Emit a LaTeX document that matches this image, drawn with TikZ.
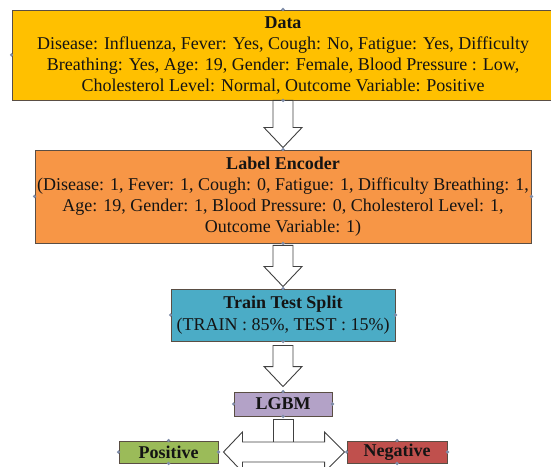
\documentclass[tikz,border=0pt]{standalone}
\usepackage{fontspec}
\setmainfont{Liberation Serif}
\usetikzlibrary{calc}
\definecolor{cdata}{HTML}{FFC000}
\definecolor{clabel}{HTML}{F79646}
\definecolor{ctrain}{HTML}{4BACC6}
\definecolor{clgbm}{HTML}{B3A2C7}
\definecolor{cpos}{HTML}{9BBB59}
\definecolor{cneg}{HTML}{C0504D}
\definecolor{cborder}{HTML}{5A4E44}
\definecolor{ctext}{HTML}{141414}
\definecolor{cdot}{HTML}{7F8CA8}
\tikzset{
  box/.style={draw=cborder, line width=0.9pt, inner sep=0pt, align=center,
    text=ctext, font=\fontsize{18}{21}\selectfont},
  blockarrow/.style={draw=black!75, line width=0.9pt, fill=white, line join=miter},
  cdotstyle/.style={fill=cdot, draw=none},
}
\newcommand{\boxdots}[1]{%
  \foreach \a in {north,south,east,west}{\fill[cdotstyle] (#1.\a) circle (1.8pt);}}
\newcommand{\blockarr}[4]{%
  \draw[blockarrow] let \p1=(#1.south), \p2=(#2.north) in
    ({\x1-10pt},{\y1-#3}) -- ({\x1+10pt},{\y1-#3}) -- ({\x1+10pt},{\y2+#4+20pt})
    -- ({\x1+19pt},{\y2+#4+20pt}) -- (\x1,{\y2+#4}) -- ({\x1-19pt},{\y2+#4+20pt})
    -- ({\x1-10pt},{\y2+#4+20pt}) -- cycle;}
\begin{document}
\begin{tikzpicture}[x=1pt,y=1pt]
\useasboundingbox (0,0) rectangle (551,466);
\node[box, fill=cdata, minimum width=542pt, minimum height=90pt] (data) at (283,411)
  {\textbf{Data}\\Disease: Influenza, Fever: Yes, Cough: No, Fatigue: Yes, Difficulty\\
   Breathing: Yes, Age: 19, Gender: Female, Blood Pressure : Low,\\
   Cholesterol Level: Normal, Outcome Variable: Positive};
\node[box, fill=clabel, minimum width=496pt, minimum height=93pt] (label) at (283,269.5)
  {\textbf{Label Encoder}\\(Disease: 1, Fever: 1, Cough: 0, Fatigue: 1, Difficulty Breathing: 1,\\
   Age: 19, Gender: 1, Blood Pressure: 0, Cholesterol Level: 1,\\
   Outcome Variable: 1)};
\node[box, fill=ctrain, minimum width=224pt, minimum height=52pt, font=\fontsize{18}{22}\selectfont] (train) at (283,151)
  {\textbf{Train Test Split}\\(TRAIN : 85\%, TEST : 15\%)};
\node[box, fill=clgbm, minimum width=98pt, minimum height=24pt] (lgbm) at (283,62) {\textbf{LGBM}};
\node[box, fill=cpos, minimum width=99pt, minimum height=22pt] (pos) at (168.5,14) {\textbf{Positive}};
\node[box, fill=cneg, minimum width=100pt, minimum height=22pt] (neg) at (397,14) {\textbf{Negative}};
\blockarr{data}{label}{0pt}{2pt}
\blockarr{label}{train}{2pt}{2pt}
\blockarr{train}{lgbm}{4pt}{5pt}
% stem from LGBM
\draw[blockarrow] let \p1=(lgbm.south) in
  ({\x1-10pt},{\y1-27pt}) -- ({\x1-10pt},{\y1-3pt}) -- ({\x1+10pt},{\y1-3pt}) -- ({\x1+10pt},{\y1-27pt});
% double arrow between outcomes
\draw[blockarrow] let \p1=(pos.east), \p2=(neg.west) in
  ({\x1+5pt},\y1) -- ({\x1+24pt},{\y1+20pt}) -- ({\x1+24pt},{\y1+10pt}) -- ({\x2-22pt},{\y1+10pt})
  -- ({\x2-22pt},{\y1+20pt}) -- ({\x2-2pt},\y1) -- ({\x2-22pt},{\y1-20pt}) -- ({\x2-22pt},{\y1-10pt})
  -- ({\x1+24pt},{\y1-10pt}) -- ({\x1+24pt},{\y1-20pt}) -- cycle;
\boxdots{data}\boxdots{label}\boxdots{train}\boxdots{lgbm}\boxdots{pos}\boxdots{neg}
\end{tikzpicture}
\end{document}
